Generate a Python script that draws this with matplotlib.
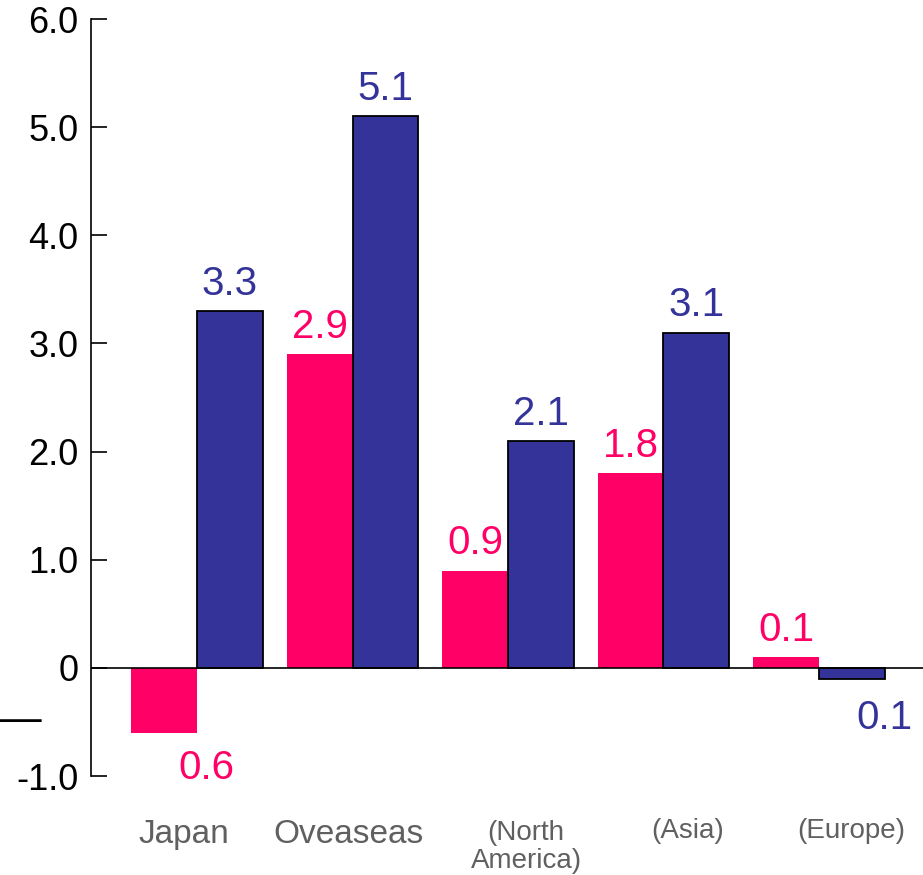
import numpy as np
import matplotlib
matplotlib.use("Agg")
import matplotlib.pyplot as plt

plt.rcParams['font.family'] = ['Liberation Sans', 'DejaVu Sans']

categories = ['Japan', 'Oveaseas', '(North\nAmerica)', '(Asia)', '(Europe)']
pink_vals = [-0.6, 2.9, 0.9, 1.8, 0.1]
blue_vals = [3.3, 5.1, 2.1, 3.1, -0.1]
yticks = [-1, 0, 1, 2, 3, 4, 5, 6]
ytick_labels = ['-1.0', '0', '1.0', '2.0', '3.0', '4.0', '5.0', '6.0']

PINK = '#FF0066'
BLUE = '#333399'
GRAY = '#606060'

x = np.arange(len(categories))
w = 0.424

fig = plt.figure(figsize=(9.23, 8.75), dpi=100)
ax = fig.add_axes([91 / 923, 99 / 875, 1 - 91 / 923, 757 / 875])

ax.bar(x - w / 2, pink_vals, w, color=PINK, linewidth=0, zorder=2)
ax.bar(x + w / 2, blue_vals, w, color=BLUE, edgecolor='black', linewidth=1.3, zorder=2)
ax.axhline(0, color='black', linewidth=1.2, zorder=3)

# value labels (negatives shown without sign, shifted right)
for xi, v in zip(x - w / 2, pink_vals):
    if v >= 0:
        ax.text(xi, v + 0.15, f'{abs(v):.1f}', color=PINK, fontsize=29, ha='center', va='baseline')
    else:
        ax.text(xi + 0.27, v - 0.43, f'{abs(v):.1f}', color=PINK, fontsize=29, ha='center', va='baseline')
for xi, v in zip(x + w / 2, blue_vals):
    if v >= 0:
        ax.text(xi, v + 0.15, f'{abs(v):.1f}', color=BLUE, fontsize=29, ha='center', va='baseline')
    else:
        ax.text(xi + 0.21, v - 0.47, f'{abs(v):.1f}', color=BLUE, fontsize=29, ha='center', va='baseline')

# category labels (baseline of the last line)
label_x = [-0.084, 0.971, 2.116, 3.158, 4.206]
label_y = [-1.619, -1.619, -1.850, -1.573, -1.573]
label_size = [24, 24, 20, 20, 20]
for lx, ly, lab, fs in zip(label_x, label_y, categories, label_size):
    ax.text(lx, ly, lab, color=GRAY, fontsize=fs, ha='center', va='baseline',
            linespacing=1.08, clip_on=False)

ax.set_xlim(-0.682, 4.669)
ax.set_ylim(-1, 6)
ax.set_yticks(yticks)
ax.set_yticklabels(ytick_labels)
ax.tick_params(axis='y', direction='in', length=11.5, width=1.2, pad=9, labelsize=26)
ax.set_xticks([])
for s in ['top', 'right', 'bottom']:
    ax.spines[s].set_visible(False)
ax.spines['left'].set_linewidth(1.2)

fig.text(0.0, (875 - 720) / 875, '\u2014', fontsize=30, ha='left', va='center')

fig.savefig('out.png', dpi=100)
